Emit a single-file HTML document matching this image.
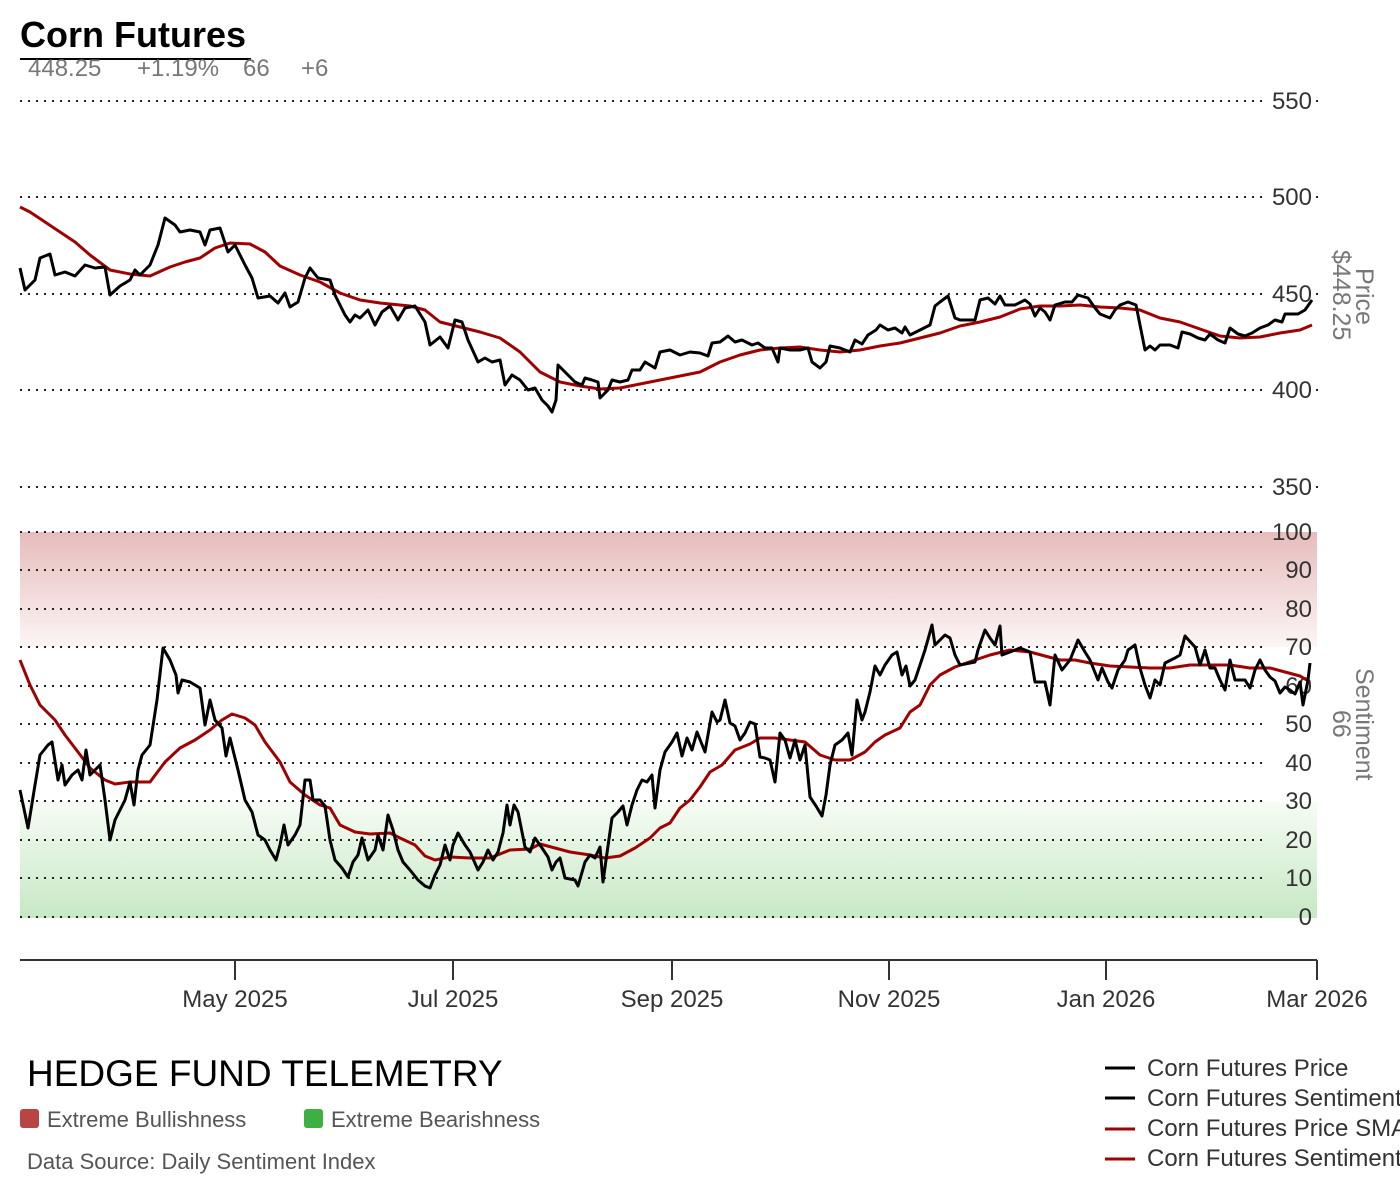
<!DOCTYPE html>
<html><head><meta charset="utf-8"><style>
html,body{margin:0;padding:0;background:#fff;}
svg{display:block;font-family:"Liberation Sans",sans-serif;}
</style></head><body>
<svg width="1400" height="1200" viewBox="0 0 1400 1200" xmlns="http://www.w3.org/2000/svg">
<defs>
<linearGradient id="rg" x1="0" y1="0" x2="0" y2="1"><stop offset="0" stop-color="#e6bcbc"/><stop offset="1" stop-color="#fdf5f5"/></linearGradient>
<linearGradient id="gg" x1="0" y1="0" x2="0" y2="1"><stop offset="0" stop-color="#f6fcf5"/><stop offset="1" stop-color="#c6e8c4"/></linearGradient>
</defs>
<text x="20" y="47" font-size="36" font-weight="bold" fill="#000">Corn Futures</text>
<line x1="20" y1="59" x2="251" y2="59" stroke="#000" stroke-width="2"/>
<text y="76" font-size="24" fill="#777"><tspan x="28">448.25</tspan><tspan x="137">+1.19%</tspan><tspan x="243">66</tspan><tspan x="301">+6</tspan></text>

<rect x="20" y="532" width="1297" height="115" fill="url(#rg)"/>
<rect x="20" y="802" width="1297" height="116" fill="url(#gg)"/>

<g stroke="#222" stroke-width="2" stroke-dasharray="2,6">
<line x1="20" y1="101" x2="1262" y2="101"/><line x1="20" y1="197" x2="1262" y2="197"/><line x1="20" y1="294" x2="1262" y2="294"/><line x1="20" y1="390" x2="1262" y2="390"/><line x1="20" y1="487" x2="1262" y2="487"/>
<line x1="20" y1="532" x2="1262" y2="532"/><line x1="20" y1="570" x2="1262" y2="570"/><line x1="20" y1="609" x2="1262" y2="609"/><line x1="20" y1="647" x2="1262" y2="647"/><line x1="20" y1="686" x2="1262" y2="686"/><line x1="20" y1="724" x2="1262" y2="724"/><line x1="20" y1="763" x2="1262" y2="763"/><line x1="20" y1="801" x2="1262" y2="801"/><line x1="20" y1="840" x2="1262" y2="840"/><line x1="20" y1="878" x2="1262" y2="878"/><line x1="20" y1="917" x2="1262" y2="917"/>
</g>
<g fill="#222">
<rect x="1316" y="100" width="2" height="2"/><rect x="1316" y="196" width="2" height="2"/><rect x="1316" y="293" width="2" height="2"/><rect x="1316" y="389" width="2" height="2"/><rect x="1316" y="486" width="2" height="2"/>
</g>
<g font-size="24" fill="#333" text-anchor="end">
<text x="1312" y="109">550</text><text x="1312" y="205">500</text><text x="1312" y="302">450</text><text x="1312" y="398">400</text><text x="1312" y="495">350</text>
<text x="1312" y="540">100</text><text x="1312" y="578">90</text><text x="1312" y="617">80</text><text x="1312" y="655">70</text><text x="1312" y="694">60</text><text x="1312" y="732">50</text><text x="1312" y="771">40</text><text x="1312" y="809">30</text><text x="1312" y="848">20</text><text x="1312" y="886">10</text><text x="1312" y="925">0</text>
</g>

<polyline fill="none" stroke="#a00000" stroke-width="3" stroke-linejoin="round" points="20,207 30,212 45,222 60,232 75,242 90,255 110,270 130,274 150,276 170,267 185,262 200,258 215,248 230,243 250,244 265,252 280,266 300,275 320,282 340,293 360,300 380,303 410,306 425,310 440,322 460,327 480,332 500,338 520,352 540,372 560,382 580,386 600,389 620,388 640,384 660,380 680,376 700,372 720,362 740,355 760,350 780,348 800,347 820,350 840,352 860,350 880,346 900,343 920,338 940,333 960,326 980,322 1000,317 1020,309 1040,306 1060,306 1080,305 1100,307 1120,308 1140,310 1160,318 1180,322 1200,329 1220,336 1240,338 1260,337 1280,333 1300,330 1312,325"/>
<polyline fill="none" stroke="#000" stroke-width="3" stroke-linejoin="round" points="20,268 25,290 35,280 40,258 50,254 55,275 65,272 75,276 85,265 95,268 105,267 110,295 120,286 130,280 135,270 140,275 150,265 158,245 165,218 175,225 180,232 190,230 200,232 205,245 210,230 220,228 228,252 235,245 245,265 252,278 258,298 270,296 278,303 285,293 290,307 298,302 305,278 310,268 318,278 330,280 335,295 345,315 350,322 355,315 360,318 368,310 375,325 382,312 390,306 398,320 405,308 415,306 425,322 430,345 440,337 448,348 455,320 462,322 468,340 478,362 485,358 492,362 500,360 505,385 512,375 520,380 528,390 535,388 542,400 548,406 552,412 556,400 558,365 565,372 575,382 582,385 585,378 592,380 598,382 600,398 608,390 612,380 620,382 628,380 632,370 640,370 645,362 655,368 660,352 670,350 680,355 690,352 700,353 708,356 712,343 720,342 728,336 735,342 742,340 752,345 758,343 765,348 772,348 778,362 780,348 790,350 800,350 808,348 812,362 820,368 826,362 830,346 840,348 850,352 855,340 862,344 868,335 876,330 880,325 888,330 895,328 902,333 905,327 910,335 920,330 930,325 935,306 940,302 948,296 955,318 960,320 975,320 980,300 988,298 995,304 1000,296 1005,305 1015,305 1025,300 1030,304 1035,316 1040,308 1045,312 1050,320 1055,305 1065,302 1072,302 1078,295 1088,298 1095,308 1100,314 1110,318 1115,310 1120,305 1128,302 1136,305 1145,350 1150,346 1155,350 1160,345 1170,345 1178,348 1182,332 1190,334 1198,338 1205,340 1210,334 1218,340 1225,343 1230,328 1238,334 1245,336 1252,333 1260,328 1268,325 1275,320 1282,322 1285,314 1298,314 1305,310 1312,300"/>

<polyline fill="none" stroke="#a00000" stroke-width="3" stroke-linejoin="round" points="20,660 30,685 40,705 55,720 65,735 78,752 90,768 105,780 115,784 130,782 150,782 165,762 180,748 195,740 210,730 222,720 232,714 245,718 255,725 265,742 280,762 290,782 305,795 320,805 330,808 340,825 355,832 370,834 390,833 400,838 415,845 425,856 435,860 450,857 470,858 490,858 510,850 530,849 540,844 555,848 570,852 590,855 605,858 620,856 635,848 650,838 660,828 670,823 680,808 690,800 700,787 710,772 722,765 735,750 750,744 760,738 775,738 790,740 805,742 820,755 835,760 850,760 865,752 875,742 885,735 900,728 910,712 920,705 930,685 940,675 955,667 975,660 990,655 1010,650 1030,652 1045,656 1060,660 1075,660 1090,663 1110,666 1130,667 1150,668 1170,668 1190,665 1210,665 1230,665 1250,668 1270,668 1285,672 1300,676 1310,682"/>
<polyline fill="none" stroke="#000" stroke-width="3" stroke-linejoin="round" points="20,790 28,828 35,785 40,755 48,745 52,742 58,780 62,765 65,785 72,775 78,770 82,780 86,750 90,775 100,765 105,800 110,840 115,820 125,800 130,782 134,805 138,770 142,755 150,745 157,700 163,648 170,660 176,675 178,693 182,680 190,682 200,688 205,725 210,700 215,720 222,728 226,756 230,738 238,770 245,800 252,812 258,835 265,840 270,850 276,860 280,845 284,825 288,845 295,835 300,825 305,780 310,780 313,800 320,800 325,806 330,840 335,860 342,868 348,877 353,862 358,855 362,838 368,860 375,850 378,835 383,850 388,815 393,830 398,850 403,862 410,870 418,880 425,886 430,888 435,875 440,865 445,845 450,860 453,845 458,833 465,845 470,852 478,870 483,862 488,850 493,860 498,852 503,833 507,805 510,825 514,805 518,812 525,847 530,852 535,838 542,848 548,857 552,870 556,862 560,858 565,878 575,880 578,886 585,862 590,855 595,858 600,847 603,882 606,860 612,818 618,812 623,806 627,825 632,805 637,790 642,780 647,782 652,775 655,808 660,770 665,752 672,742 677,733 682,756 687,738 692,750 697,732 705,752 712,712 717,722 720,720 725,700 730,723 735,726 740,740 745,733 750,722 755,724 760,757 765,758 770,760 775,782 780,733 785,740 790,758 795,740 800,760 805,745 810,797 816,806 822,816 826,795 830,765 835,745 842,740 848,733 852,755 857,700 862,720 865,712 870,692 875,666 880,675 885,665 892,655 897,652 902,675 906,666 910,686 915,680 920,665 925,650 932,625 935,645 940,640 945,635 950,638 955,655 960,665 975,662 978,650 985,630 990,638 995,645 1000,626 1002,655 1010,652 1020,648 1030,652 1035,682 1045,682 1050,705 1055,655 1062,670 1070,660 1078,640 1085,652 1090,660 1098,680 1102,668 1108,682 1112,688 1118,670 1125,660 1128,650 1135,645 1140,668 1145,685 1150,698 1155,680 1160,685 1165,663 1175,658 1180,655 1185,636 1195,647 1200,665 1205,650 1210,668 1215,668 1220,680 1225,690 1230,660 1235,680 1245,680 1250,688 1255,670 1260,660 1265,670 1270,677 1275,681 1280,693 1285,687 1290,690 1295,694 1300,682 1303,705 1308,680 1310,663"/>

<g fill="#777" font-size="25">
<text transform="translate(1356,268) rotate(90)">Price</text>
<text transform="translate(1333,250) rotate(90)">$448.25</text>
<text transform="translate(1356,668) rotate(90)">Sentiment</text>
<text transform="translate(1333,710) rotate(90)">66</text>
</g>

<g stroke="#333" stroke-width="2" fill="none">
<line x1="20" y1="960" x2="1317" y2="960"/>
<line x1="235" y1="960" x2="235" y2="980"/><line x1="453" y1="960" x2="453" y2="980"/><line x1="672" y1="960" x2="672" y2="980"/><line x1="889" y1="960" x2="889" y2="980"/><line x1="1106" y1="960" x2="1106" y2="980"/><line x1="1317" y1="960" x2="1317" y2="980"/>
</g>
<g font-size="24" fill="#333" text-anchor="middle">
<text x="235" y="1007">May 2025</text><text x="453" y="1007">Jul 2025</text><text x="672" y="1007">Sep 2025</text><text x="889" y="1007">Nov 2025</text><text x="1106" y="1007">Jan 2026</text><text x="1317" y="1007">Mar 2026</text>
</g>

<text x="27" y="1086" font-size="37" fill="#000">HEDGE FUND TELEMETRY</text>
<rect x="20" y="1109" width="19" height="19" rx="3" fill="#b84444"/>
<text x="47" y="1127" font-size="22" fill="#555">Extreme Bullishness</text>
<rect x="304" y="1109" width="19" height="19" rx="3" fill="#3cb043"/>
<text x="331" y="1127" font-size="22" fill="#555">Extreme Bearishness</text>
<text x="27" y="1169" font-size="22" fill="#555">Data Source: Daily Sentiment Index</text>

<g stroke-width="3">
<line x1="1105" y1="1068" x2="1135" y2="1068" stroke="#000"/>
<line x1="1105" y1="1098" x2="1135" y2="1098" stroke="#000"/>
<line x1="1105" y1="1129" x2="1135" y2="1129" stroke="#a00000"/>
<line x1="1105" y1="1159" x2="1135" y2="1159" stroke="#a00000"/>
</g>
<g font-size="24" fill="#333">
<text x="1147" y="1076">Corn Futures Price</text>
<text x="1147" y="1106">Corn Futures Sentiment</text>
<text x="1147" y="1136">Corn Futures Price SMA</text>
<text x="1147" y="1166">Corn Futures Sentiment SMA</text>
</g>
</svg>
</body></html>
